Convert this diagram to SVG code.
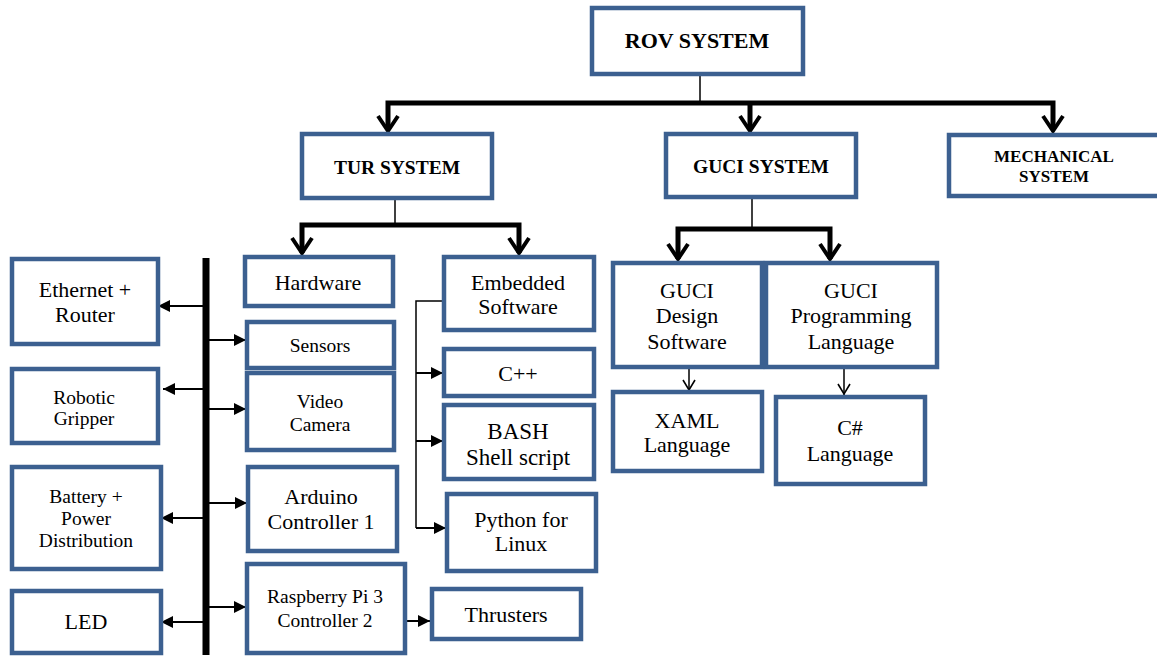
<svg xmlns="http://www.w3.org/2000/svg" width="1157" height="657" viewBox="0 0 1157 657">
<style>
.box{fill:#fff;stroke:#3c6090;stroke-width:4.5}
text{font-family:'Liberation Serif','Times New Roman','DejaVu Serif',serif;fill:#000;text-anchor:middle;font-size:22px}
.b{font-weight:bold}
.s19{font-size:19.5px}
.thick{stroke:#000;stroke-width:5;fill:none}
.thin{stroke:#000;stroke-width:1.5;fill:none}
.side{stroke:#000;stroke-width:2;fill:none;marker-end:url(#tri)}
.chev{stroke:#000;stroke-width:4;fill:none;stroke-linejoin:miter}
.vchev{stroke:#000;stroke-width:1.6;fill:none}
</style>
<defs>
<marker id="tri" viewBox="0 0 12 12" refX="12" refY="6" markerWidth="12" markerHeight="12" markerUnits="userSpaceOnUse" orient="auto">
<path d="M0,0 L12,6 L0,12 Z" fill="#000"/>
</marker>
</defs>
<rect width="1157" height="657" fill="#fff"/>
<g id="connectors">
<path class="thin" d="M700,74 V101"/>
<path class="thick" d="M388,130 V103 H1053 V130"/>
<path class="thick" d="M750,103 V130"/>
<path class="chev" d="M378,116 L388,131 L398,116"/>
<path class="chev" d="M740,116 L750,131 L760,116"/>
<path class="chev" d="M1043,116 L1053,131 L1063,116"/>
<path class="thin" d="M395,198 V224"/>
<path class="thick" d="M302,253 V225 H519 V253"/>
<path class="chev" d="M292,238 L302,253 L312,238"/>
<path class="chev" d="M509,238 L519,253 L529,238"/>
<path class="thin" d="M752,197 V228"/>
<path class="thick" d="M678,259 V229 H830 V259"/>
<path class="chev" d="M668,244 L678,259 L688,244"/>
<path class="chev" d="M820,244 L830,259 L840,244"/>
<path d="M206,258 V655" stroke="#000" stroke-width="7"/>
<path class="side" d="M203,306 H158"/>
<path class="side" d="M203,389 H163"/>
<path class="side" d="M203,518 H161"/>
<path class="side" d="M203,622 H161"/>
<path class="side" d="M209,340 H246"/>
<path class="side" d="M209,409 H246"/>
<path class="side" d="M209,503 H247"/>
<path class="side" d="M209,607 H246"/>
<path class="side" d="M405,621 H430"/>
<path class="thin" d="M443,301 H416 V528"/>
<path class="side" d="M416,373 H443"/>
<path class="side" d="M416,441 H443"/>
<path class="side" d="M416,528 H446"/>
<path class="thin" d="M689,367 V391"/>
<path class="vchev" d="M683,380 L689,390 L695,380"/>
<path class="thin" d="M844,367 V395"/>
<path class="vchev" d="M838,384 L844,394 L850,384"/>
</g>
<g id="rov"><rect class="box" x="592" y="8" width="211" height="66"/><text class="b" x="697" y="48">ROV SYSTEM</text></g>
<g id="tur"><rect class="box" x="302" y="134" width="190" height="64"/><text class="b" x="397" y="173.5" style="font-size:19.5px">TUR SYSTEM</text></g>
<g id="guci"><rect class="box" x="666" y="134" width="190" height="63"/><text class="b" x="761" y="172.5" style="font-size:19.5px">GUCI SYSTEM</text></g>
<g id="mech"><rect class="box" x="949" y="135" width="215" height="61"/><text class="b" x="1054" y="161.5" style="font-size:17px">MECHANICAL</text><text class="b" x="1054" y="181.5" style="font-size:17px">SYSTEM</text></g>
<g id="ethernet"><rect class="box" x="12" y="259" width="146" height="85"/><text x="85" y="297">Ethernet +</text><text x="85" y="322">Router</text></g>
<g id="gripper"><rect class="box" x="12" y="369" width="146" height="74"/><text class="s19" x="84" y="403.5">Robotic</text><text class="s19" x="84" y="425">Gripper</text></g>
<g id="battery"><rect class="box" x="12" y="467" width="149" height="102"/><text class="s19" x="86" y="503">Battery +</text><text class="s19" x="86" y="525">Power</text><text class="s19" x="86" y="547">Distribution</text></g>
<g id="led"><rect class="box" x="12" y="591" width="149" height="62"/><text x="86" y="629">LED</text></g>
<g id="hardware"><rect class="box" x="245" y="257" width="148" height="49"/><text x="318" y="290">Hardware</text></g>
<g id="sensors"><rect class="box" x="247" y="322" width="147" height="46"/><text class="s19" x="320" y="351.5">Sensors</text></g>
<g id="video"><rect class="box" x="247" y="373" width="147" height="77"/><text class="s19" x="320" y="407.5">Video</text><text class="s19" x="320" y="430.5">Camera</text></g>
<g id="arduino"><rect class="box" x="248" y="467" width="149" height="84"/><text x="321" y="504">Arduino</text><text x="321" y="529">Controller 1</text></g>
<g id="raspberry"><rect class="box" x="247" y="564" width="158" height="89"/><text class="s19" x="325" y="603">Raspberry Pi 3</text><text class="s19" x="325" y="626.5">Controller 2</text></g>
<g id="thrusters"><rect class="box" x="432" y="589" width="149" height="50"/><text x="506" y="622">Thrusters</text></g>
<g id="embedded"><rect class="box" x="444" y="257" width="150" height="73"/><text x="518" y="290">Embedded</text><text x="518" y="314">Software</text></g>
<g id="cpp"><rect class="box" x="444" y="349" width="150" height="47"/><text x="518" y="381">C++</text></g>
<g id="bash"><rect class="box" x="444" y="405" width="150" height="74"/><text x="518" y="439" style="font-size:23px">BASH</text><text x="518" y="464.5" style="font-size:23px">Shell script</text></g>
<g id="python"><rect class="box" x="447" y="494" width="149" height="77"/><text x="521" y="527">Python for</text><text x="521" y="551">Linux</text></g>
<g id="gucidesign"><rect class="box" x="613" y="263" width="149" height="104"/><text x="687" y="298">GUCI</text><text x="687" y="323">Design</text><text x="687" y="348.5">Software</text></g>
<g id="guciprog"><rect class="box" x="766" y="263" width="171" height="104"/><text x="851" y="298">GUCI</text><text x="851" y="323">Programming</text><text x="851" y="348.5">Language</text></g>
<g id="xaml"><rect class="box" x="613" y="392" width="149" height="79"/><text x="687" y="428">XAML</text><text x="687" y="452">Language</text></g>
<g id="csharp"><rect class="box" x="776" y="397" width="149" height="87"/><text x="850" y="435">C#</text><text x="850" y="460.5">Language</text></g>
</svg>
